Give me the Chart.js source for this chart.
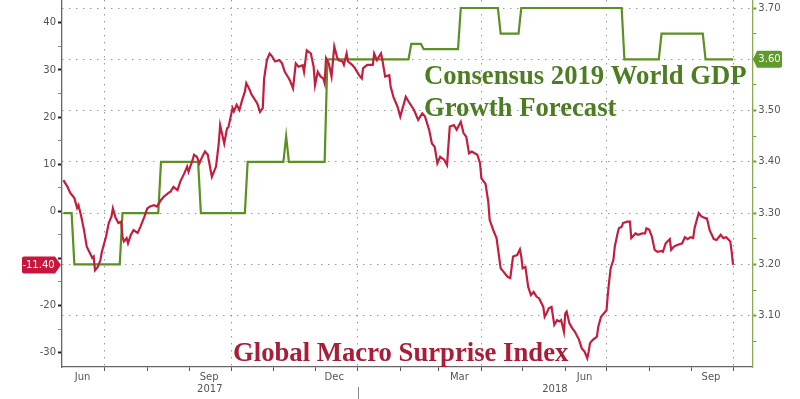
<!DOCTYPE html>
<html><head><meta charset="utf-8">
<script src="https://cdn.jsdelivr.net/npm/chart.js@4.4.1/dist/chart.umd.min.js"></script>
<style>html,body{margin:0;padding:0;background:#fff}#wrap{width:800px;height:399px;position:relative}</style>
</head><body><div id="wrap"><canvas id="c"></canvas></div>
<script>
// ---- data (days counted from 2017-06-01) ----
const START_DATE = '2017-06-01';
const surpriseDay = [
0,3,5,8,10,11,13,15,17,20,21,22,23,25,27,28,31,33,35,36,
38,40,42,43,44,46,47,49,51,54,56,59,61,63,66,68,71,73,76,78,
80,83,85,88,90,91,94,95,97,99,101,103,105,108,111,113,114,117,119,120,
123,124,126,128,130,132,133,135,137,138,141,143,145,146,148,150,152,154,157,159,
161,164,165,167,169,171,174,175,177,180,182,183,185,187,189,190,191,193,195,197,
199,200,203,204,206,207,210,212,215,217,218,221,225,226,228,231,232,234,237,238,
240,243,245,249,251,255,258,261,263,266,268,270,272,274,277,279,281,284,286,289,
291,293,295,297,301,303,304,307,309,310,313,315,318,320,323,325,327,330,332,333,
334,336,338,340,342,344,346,349,350,352,353,355,357,359,361,362,364,365,366,368,
370,372,375,377,379,381,382,383,385,388,389,391,393,395,396,397,398,400,401,403,
404,406,407,410,412,413,416,418,421,423,424,426,428,430,432,435,436,438,441,442,
444,446,450,452,454,456,458,459,462,464,467,468,470,473,475,478,480,482,485,486,
487];
const surpriseValue = [
6.6,5.2,3.9,2.8,0.7,1.3,-1.1,-4.0,-7.5,-9.3,-9.9,-9.6,-12.5,-11.8,-10.3,-8.6,-5.4,-2.5,-1.1,0.6,
-1.4,-2.5,-2.2,-5.4,-6.4,-5.7,-6.8,-5.0,-4.0,-4.6,-3.3,-1.1,0.6,1.0,1.3,1.0,2.4,3.1,3.8,4.2,
5.2,4.5,6.3,8.1,9.5,8.4,10.9,12.0,11.6,10.2,11.6,12.7,12.0,7.3,9.5,14.4,18.3,14.4,17.6,17.8,
21.9,21.2,22.6,21.5,23.6,25.4,27.2,26.1,24.7,24.3,22.9,21.1,21.9,28.2,32.1,33.5,32.8,31.8,32.1,31.4,
29.6,28.2,27.6,26.1,31.4,30.7,31.0,29.6,34.2,33.5,30.7,26.8,29.6,28.6,28.2,27.2,32.5,31.4,28.6,35.0,
32.8,32.1,31.8,31.1,33.5,31.8,31.1,30.4,28.9,28.2,30.4,31.1,31.1,33.5,32.1,33.5,32.1,28.6,28.9,26.5,
24.3,22.2,20.1,24.3,23.3,21.5,19.4,20.8,20.1,17.3,14.4,13.7,10.2,11.6,10.9,9.8,18.0,18.3,17.3,19.0,
16.6,15.8,12.3,12.7,12.0,10.2,7.0,5.8,2.0,-1.8,-4.3,-5.7,-12.1,-12.8,-13.9,-14.2,-9.6,-9.3,-8.1,-9.6,
-12.1,-11.8,-16.0,-17.8,-17.1,-18.1,-18.5,-20.3,-22.4,-21.3,-20.6,-20.3,-24.1,-23.1,-23.4,-23.1,-25.6,-21.7,-21.3,-23.8,
-24.8,-25.6,-27.3,-29.1,-29.8,-31.2,-29.8,-28.0,-27.3,-26.6,-24.5,-22.4,-21.7,-21.0,-17.4,-14.6,-12.1,-10.3,-7.5,-4.7,
-3.6,-3.3,-2.5,-2.2,-2.2,-5.7,-4.7,-5.0,-4.7,-4.7,-3.6,-3.9,-5.4,-8.2,-8.6,-8.4,-8.6,-6.8,-5.9,-8.2,
-7.5,-7.2,-6.8,-5.5,-5.9,-5.5,-5.7,-3.6,-0.4,-1.1,-1.5,-1.5,-4.0,-5.9,-6.1,-5.0,-5.7,-5.5,-6.4,-8.6,
-11.4];
const gdpDay   = [0,6,8,41,43,69,71,98,100,132,134,160,162,164,190,192,251,253,260,262,287,289,316,318,331,333,406,408,433,435,465,467,487];
const gdpValue = [3.30,3.30,3.20,3.20,3.30,3.30,3.40,3.40,3.30,3.30,3.40,3.40,3.45,3.40,3.40,3.60,3.60,3.63,3.63,3.62,3.62,3.70,3.70,3.65,3.65,3.70,3.70,3.60,3.60,3.65,3.65,3.60,3.60];

const monthTickDates = ['2017-07-01','2017-08-01','2017-09-01','2017-10-01','2017-11-01','2017-12-01','2018-01-01','2018-02-01','2018-03-01','2018-04-01','2018-05-01','2018-06-01','2018-07-01','2018-08-01','2018-09-01','2018-10-01'];
const quarterDates = ['2017-07-01','2017-10-01','2018-01-01','2018-04-01','2018-07-01','2018-10-01'];
const monthLabelDates = ['2017-06-15','2017-09-15','2017-12-15','2018-03-16','2018-06-15','2018-09-15'];
const monthLabels = ['Jun','Sep','Dec','Mar','Jun','Sep'];
const yearLabels = ['2017','2018'];
const yearStartDates = ['2018-01-01'];
const xMinDate = '2017-05-31', xMaxDate = '2018-10-15';
const leftTicks = [-30,-25,-20,-15,-10,-5,0,5,10,15,20,25,30,35,40];
const rightTicks = [3.05,3.10,3.15,3.20,3.25,3.30,3.35,3.40,3.45,3.50,3.55,3.60,3.65,3.70];
const leftRange = [-33.06, 44.86];
const rightRange = [3.00, 3.7156];

// ---- helpers ----
function dayOf(s){const [y,m,d]=s.split('-').map(Number);const [y0,m0,d0]=START_DATE.split('-').map(Number);return (Date.UTC(y,m-1,d)-Date.UTC(y0,m0-1,d0))/864e5;}
const RED='#c21f40', GREEN='#5b9023';
const lastS=surpriseValue[surpriseValue.length-1];
const lastG=gdpValue[gdpValue.length-1];
const xMin=dayOf(xMinDate), xMax=dayOf(xMaxDate);
const xTickItems=[];
monthTickDates.forEach(d=>xTickItems.push({value:dayOf(d),label:'',mark:true,grid:quarterDates.includes(d)}));
monthLabelDates.forEach((d,i)=>xTickItems.push({value:dayOf(d),label:monthLabels[i],mark:false,grid:false}));
const yb=[xMin,...yearStartDates.map(dayOf),xMax];
yearLabels.forEach((t,i)=>xTickItems.push({value:(yb[i]+yb[i+1])/2,label:['',t],mark:false,grid:false}));
const isMajor10=v=>Math.abs(v/10-Math.round(v/10))<1e-9;
const isMajorR=v=>Math.abs(v*10-Math.round(v*10))<1e-6;
function zeroPad(s){s.paddingTop=0;s.paddingBottom=0;s.paddingLeft=0;s.paddingRight=0;}

function tag(ctx,boxL,boxR,tipX,yc,h,color,text,pointRight){
  ctx.save();ctx.fillStyle=color;ctx.beginPath();
  const t=yc-h/2,b=yc+h/2,r=2;
  if(pointRight){
    ctx.moveTo(boxL+r,t);ctx.lineTo(boxR,t);ctx.lineTo(tipX,yc);ctx.lineTo(boxR,b);ctx.lineTo(boxL+r,b);
    ctx.quadraticCurveTo(boxL,b,boxL,b-r);ctx.lineTo(boxL,t+r);ctx.quadraticCurveTo(boxL,t,boxL+r,t);
  }else{
    ctx.moveTo(tipX,yc);ctx.lineTo(boxL,t);ctx.lineTo(boxR-r,t);ctx.quadraticCurveTo(boxR,t,boxR,t+r);
    ctx.lineTo(boxR,b-r);ctx.quadraticCurveTo(boxR,b,boxR-r,b);ctx.lineTo(boxL,b);
  }
  ctx.closePath();ctx.fill();
  ctx.fillStyle='#fff';ctx.font='10px "DejaVu Sans"';ctx.textAlign='center';ctx.textBaseline='middle';
  ctx.fillText(text,(boxL+boxR)/2,yc+0.5);ctx.restore();
}

const overlay={id:'overlay',afterDraw(chart){
  const ctx=chart.ctx,xs=chart.scales.x,ys=chart.scales.y,y2=chart.scales.y2;
  ctx.save();
  ctx.strokeStyle='#8a8a8a';ctx.lineWidth=1;
  yearStartDates.forEach(d=>{const px=Math.round(xs.getPixelForValue(dayOf(d)))+0.5;ctx.beginPath();ctx.moveTo(px,387);ctx.lineTo(px,399);ctx.stroke();});
  ctx.font='bold 26.7px "Liberation Serif"';ctx.textBaseline='alphabetic';ctx.textAlign='left';
  ctx.fillStyle='#4d7d22';
  ctx.fillText('Consensus 2019 World GDP',424,84);
  ctx.fillText('Growth Forecast',424,116);
  ctx.fillStyle='#a81e38';
  ctx.fillText('Global Macro Surprise Index',233,360.5);
  ctx.restore();
  tag(ctx,22,55,61,ys.getPixelForValue(lastS),17,'#c8173c',lastS.toFixed(2),true);
  tag(ctx,757,782,753,y2.getPixelForValue(lastG),17,'#5e9a2c',lastG.toFixed(2),false);
}};

Chart.defaults.font.family='"DejaVu Sans"';
Chart.defaults.font.size=10;
Chart.defaults.color='#555';

new Chart(document.getElementById('c'),{
  type:'line',
  data:{datasets:[
    {label:'Global Macro Surprise Index',data:surpriseDay.map((d,i)=>({x:d,y:surpriseValue[i]})),borderColor:RED,borderWidth:2.2,pointRadius:0,tension:0,yAxisID:'y',xAxisID:'x',order:1},
    {label:'Consensus 2019 World GDP Growth Forecast',data:gdpDay.map((d,i)=>({x:d,y:gdpValue[i]})),borderColor:GREEN,borderWidth:2.2,pointRadius:0,tension:0,yAxisID:'y2',xAxisID:'x',order:2}
  ]},
  options:{
    responsive:true,maintainAspectRatio:false,animation:false,
    layout:{padding:0},
    plugins:{legend:{display:false},tooltip:{enabled:false}},
    scales:{
      x:{type:'linear',position:'bottom',min:xMin,max:xMax,bounds:'data',
        afterBuildTicks:s=>{s.ticks=xTickItems.map(t=>({value:t.value}));},
        afterFit:s=>{s.height=32;zeroPad(s);},
        ticks:{autoSkip:false,maxRotation:0,minRotation:0,padding:0,font:{size:10,lineHeight:1.2},color:'#555',
          callback:(v,i)=>xTickItems[i]?xTickItems[i].label:''},
        grid:{drawOnChartArea:true,tickLength:4,lineWidth:1,
          color:c=>(c.index!==undefined&&xTickItems[c.index]&&xTickItems[c.index].grid)?'#9a9a9a':'rgba(0,0,0,0)',
          tickColor:c=>(c.index!==undefined&&xTickItems[c.index]&&xTickItems[c.index].mark)?'#555':'rgba(0,0,0,0)',
          tickBorderDash:[]},
        border:{display:true,color:'#666',width:1.3,dash:[1.5,5.5]}
      },
      y:{type:'linear',position:'left',min:leftRange[0],max:leftRange[1],bounds:'data',
        afterBuildTicks:s=>{s.ticks=leftTicks.map(v=>({value:v}));},
        afterFit:s=>{s.width=62;zeroPad(s);},
        ticks:{autoSkip:false,padding:2,color:'#555',callback:v=>(isMajor10(v)&&Math.abs(v-lastS)>3)?String(v):''},
        grid:{drawOnChartArea:false,tickLength:4,tickColor:c=>isMajor10(c.tick.value)?'#222':'#888',tickWidth:c=>isMajor10(c.tick.value)?2:1},
        border:{display:true,color:'#666',width:1.3}
      },
      y2:{type:'linear',position:'right',min:rightRange[0],max:rightRange[1],bounds:'data',
        afterBuildTicks:s=>{s.ticks=rightTicks.map(v=>({value:v}));},
        afterFit:s=>{s.width=47.7;zeroPad(s);},
        ticks:{autoSkip:false,padding:2,color:'#555',callback:v=>isMajorR(v)?v.toFixed(2):''},
        grid:{drawOnChartArea:true,tickLength:4,lineWidth:1,
          color:c=>(c.tick&&isMajorR(c.tick.value))?'#9a9a9a':'rgba(0,0,0,0)',
          tickColor:'#6f9a35',tickWidth:c=>(c.tick&&isMajorR(c.tick.value))?2:1,tickBorderDash:[]},
        border:{display:true,color:'#8aaa55',width:1.3,dash:[1.5,5.5]}
      }
    }
  },
  plugins:[overlay]
});
</script></body></html>
